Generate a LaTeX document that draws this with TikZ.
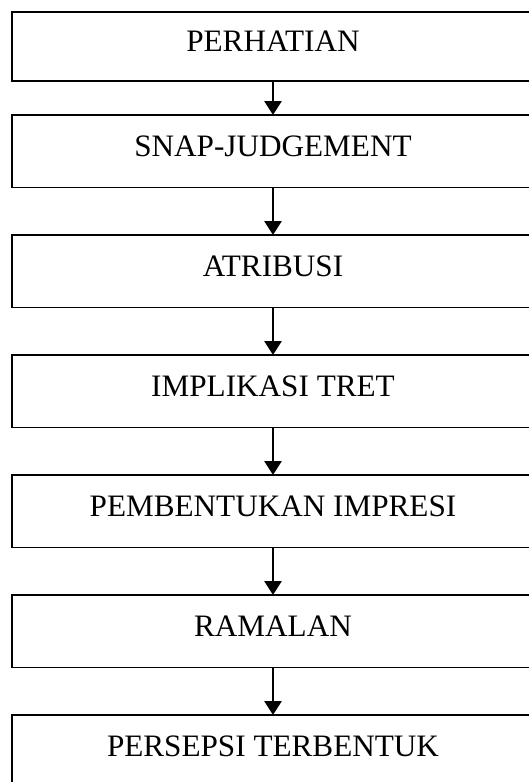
\documentclass[tikz,border=0pt]{standalone}
\usepackage{fontspec}
\setmainfont{Liberation Serif}
\usetikzlibrary{positioning,arrows.meta}

\begin{document}
\begin{tikzpicture}[x = 0.5pt, y = 0.5pt,
font = \fontsize{15.6}{18}\selectfont, node distance = 23.75pt]

\tikzset{
	flow_box/.style = {
		draw, line width = 0.9pt, rectangle, outer sep = 0pt,
		minimum width = 261pt, minimum height = 36.25pt,
		text height = 10.3pt, text depth = 5pt
	},
	flow_arrow/.style = {
		line width = 1.4pt, -{Triangle[width = 8.5pt, length = 7pt]}
	}
}

\useasboundingbox (0,0) rectangle (529,-782);

\node[flow_box, minimum height = 34.5pt] (PH) at (273,-46.5) {PERHATIAN}; % Kotak pertama
\node[flow_box, below = 17pt of PH] (SJ) {SNAP-JUDGEMENT};
\node[flow_box, below = of SJ] (AT) {ATRIBUSI};
\node[flow_box, below = of AT] (IT) {IMPLIKASI TRET};
\node[flow_box, below = of IT] (PI) {PEMBENTUKAN IMPRESI};
\node[flow_box, below = of PI] (RM) {RAMALAN};
\node[flow_box, below = of RM] (PT) {PERSEPSI TERBENTUK}; % Kotak terakhir

% Panah antar kotak
\draw[flow_arrow] (PH) -- (SJ);
\draw[flow_arrow] (SJ) -- (AT);
\draw[flow_arrow] (AT) -- (IT);
\draw[flow_arrow] (IT) -- (PI);
\draw[flow_arrow] (PI) -- (RM);
\draw[flow_arrow] (RM) -- (PT);
\end{tikzpicture}
\end{document}
